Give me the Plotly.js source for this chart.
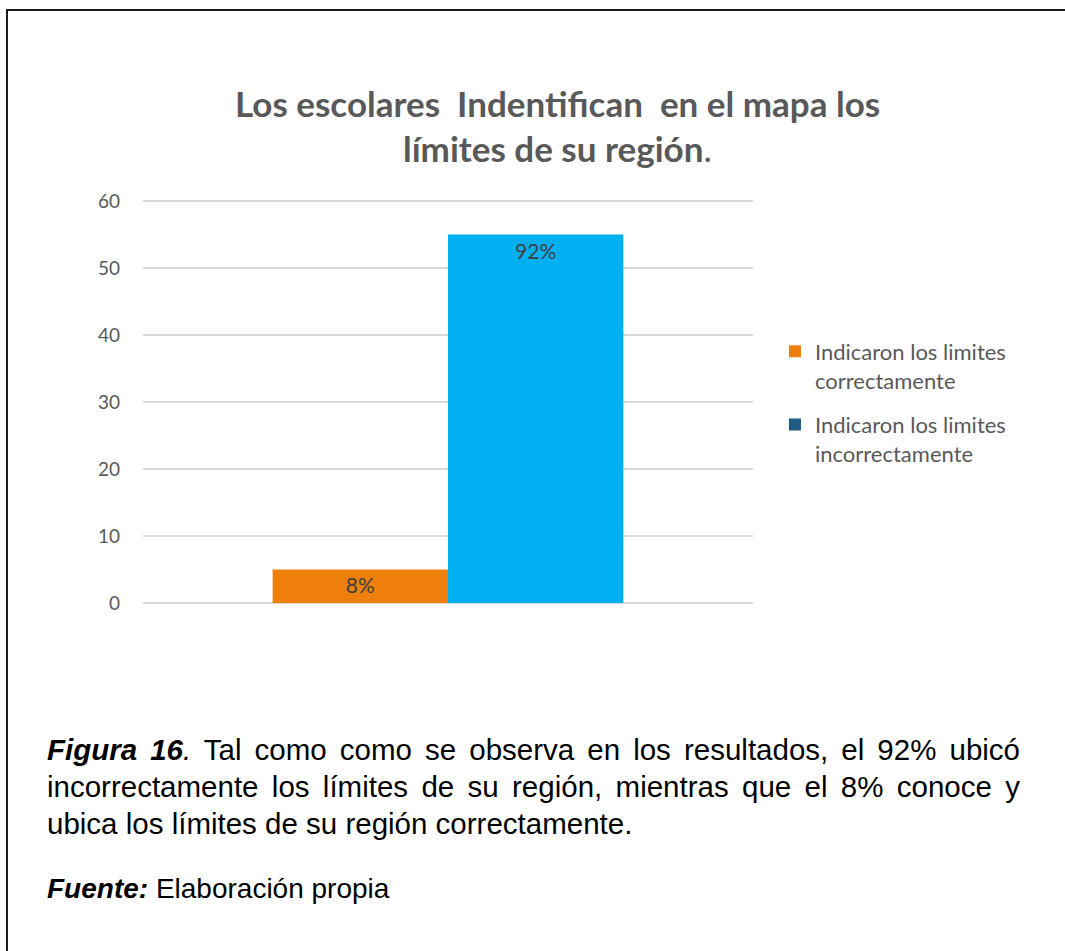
<!DOCTYPE html>
<html>
<head>
<meta charset="utf-8">
<script src="https://cdn.plot.ly/plotly-3.0.1.min.js"></script>
<style>
  html, body { margin: 0; padding: 0; background: #fff; }
  #wrap { position: relative; width: 1065px; height: 951px; overflow: hidden; }
  #chart { position: absolute; left: 0; top: 0; width: 1065px; height: 951px; }
  #frame { position: absolute; left: 6px; top: 9px; width: 1200px; height: 1200px;
           border-left: 2.5px solid #1a1a1a; border-top: 2.5px solid #1a1a1a; pointer-events: none; }
  .cap { position: absolute; left: 47px; width: 973px; font-family: "Liberation Sans", Arial, sans-serif;
         font-size: 29.5px; line-height: 37px; color: #000; text-align: justify; }
  #caption { top: 731px; }
  #fuente { top: 870px; font-size: 28px; }
</style>
</head>
<body>
<div id="wrap">
  <div id="chart"></div>
  <div id="frame"></div>
  <div id="caption" class="cap"><i><b>Figura&nbsp;16</b>.</i> Tal como como se observa en los resultados, el 92% ubicó incorrectamente los límites de su región, mientras que el 8% conoce y ubica los límites de su región correctamente.</div>
  <div id="fuente" class="cap"><i><b>Fuente:</b></i> Elaboración propia</div>
</div>
<script>
// ---- data ----
const category = ['Resultados'];
const seriesNames = ['Indicaron los limites<br>correctamente', 'Indicaron los limites<br>incorrectamente'];
const correctValues = [5];
const incorrectValues = [55];
const correctLabels = ['8%'];
const incorrectLabels = ['92%'];
const yTicks = [0, 10, 20, 30, 40, 50, 60];

const barColors = ['#EF7F0B', '#00B0F0'];
const legendColors = ['#EF7F0B', '#1F5B82'];

const labelFont = { family: 'Lato, "Open Sans", sans-serif', size: 21, color: '#404040' };

const traces = [
  { type: 'bar', x: category, y: correctValues, text: correctLabels, textposition: 'inside',
    insidetextanchor: 'end', textfont: labelFont, marker: { color: barColors[0] },
    showlegend: false, hoverinfo: 'skip', constraintext: 'none' },
  { type: 'bar', x: category, y: incorrectValues, text: incorrectLabels, textposition: 'inside',
    insidetextanchor: 'end', textfont: labelFont, marker: { color: barColors[1] },
    showlegend: false, hoverinfo: 'skip', constraintext: 'none' },
  // legend entries (the original legend uses a dark blue swatch for the second series)
  { type: 'scatter', mode: 'markers', x: [null], y: [null], name: seriesNames[0], legendgroup: 'g1',
    marker: { symbol: 'square', size: 12, color: legendColors[0] } },
  { type: 'scatter', mode: 'markers', x: [null], y: [null], name: seriesNames[1], legendgroup: 'g2',
    marker: { symbol: 'square', size: 12, color: legendColors[1] } }
];

const PLOT_BOTTOM = 605, PLOT_H = 406, PLOT_L = 143, PLOT_W = 610;

const layout = {
  width: 1065, height: 951,
  margin: { l: 143, r: 312, t: 199, b: 346 },
  paper_bgcolor: 'rgba(0,0,0,0)', plot_bgcolor: 'rgba(0,0,0,0)',
  barmode: 'group', bargap: 0.425, bargroupgap: 0,
  showlegend: true,
  font: { family: 'Lato, "Open Sans", sans-serif', color: '#595959' },
  xaxis: { showticklabels: false, showgrid: false, zeroline: false, showline: false, fixedrange: true },
  yaxis: { range: [-0.3, 60.3], tickvals: yTicks, ticktext: yTicks.map(String), showgrid: true,
           gridcolor: '#D9D9D9', gridwidth: 1.5, zeroline: false, showline: false,
           tickfont: { size: 19, color: '#595959' }, ticklabelstandoff: 22, fixedrange: true },
  legend: { x: 1.036, xref: 'paper', y: 0.676, yanchor: 'top', valign: 'top',
            font: { size: 22, color: '#595959' }, tracegroupgap: 13, itemwidth: 30,
            bgcolor: 'rgba(0,0,0,0)' },
  annotations: [
    { text: 'Los escolares\u00a0 Indentifican\u00a0 en el mapa los', xref: 'paper', yref: 'paper',
      x: (557 - PLOT_L) / PLOT_W, y: (PLOT_BOTTOM - 103) / PLOT_H, xanchor: 'center', yanchor: 'middle', showarrow: false,
      font: { size: 35, weight: 'bold', color: '#595959' } },
    { text: 'límites de su región<span style="font-weight:normal">.</span>', xref: 'paper', yref: 'paper',
      x: (557 - PLOT_L) / PLOT_W, y: (PLOT_BOTTOM - 148) / PLOT_H, xanchor: 'center', yanchor: 'middle', showarrow: false,
      font: { size: 35, weight: 'bold', color: '#595959' } }
  ]
};

Plotly.newPlot('chart', traces, layout, { displayModeBar: false, staticPlot: true });
</script>
</body>
</html>
